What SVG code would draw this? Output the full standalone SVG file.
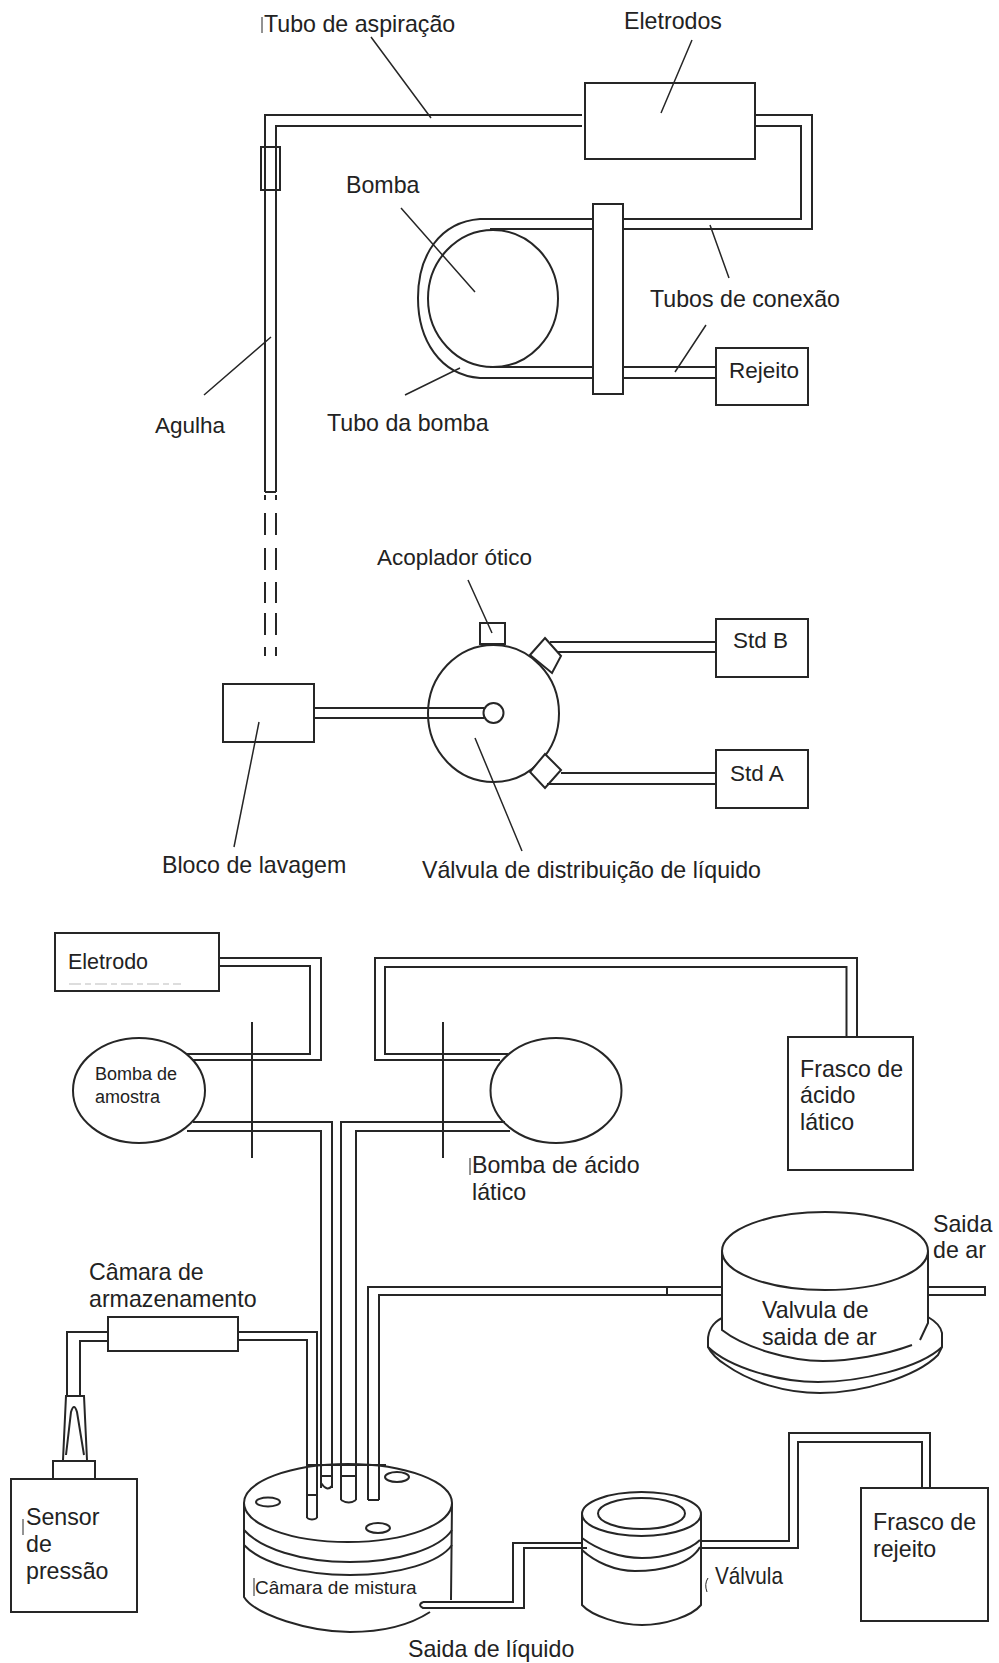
<svg xmlns="http://www.w3.org/2000/svg" width="999" height="1663" viewBox="0 0 999 1663">
<style>
text{font-family:"Liberation Sans",Arial,sans-serif;font-size:23.2px;fill:#222}
.n{font-size:22.5px}
.s{font-size:18px}
.m{font-size:19px}
path,rect,ellipse,line,polygon{stroke:#262626;stroke-width:2;fill:none}
.w{fill:#fff}
.l{stroke-width:1.5}
.t{stroke-width:1}
.d{stroke:#bbb;stroke-width:1;stroke-dasharray:12 4 6 4}
</style>
<rect x="0" y="0" width="999" height="1663" style="fill:#fff;stroke:none"/>
<g id="eletrodos"><rect class="w" x="585" y="83" width="170" height="76"/><text x="624" y="29">Eletrodos</text></g>
<g id="colar"><rect x="261" y="147" width="19" height="43"/></g>
<g id="bomba"><ellipse cx="493" cy="298.5" rx="65" ry="68.5"/><text x="346" y="193">Bomba</text></g>
<g id="prensa"><rect class="w" x="593" y="204" width="30" height="190"/></g>
<g id="rejeito"><rect class="w" x="716" y="348" width="92" height="57"/><text class="n" x="729" y="378">Rejeito</text></g>
<g id="bloco"><rect class="w" x="223" y="684" width="91" height="58"/><text x="162" y="873">Bloco de lavagem</text></g>
<g id="valvula-dist"><ellipse cx="493.5" cy="713.5" rx="65.5" ry="68.5"/><ellipse class="w" cx="493.5" cy="713" rx="10" ry="10"/>
<rect class="w" x="480" y="623" width="25" height="21"/>
<polygon class="w" points="545,638 561,656 552,673 530,655"/>
<polygon class="w" points="545,754 561,770 545,788 530,772"/>
<text x="422" y="878">Válvula de distribuição de líquido</text></g>
<g id="stdb"><rect class="w" x="716" y="619" width="92" height="58"/><text class="n" x="733" y="648">Std B</text></g>
<g id="stda"><rect class="w" x="716" y="750" width="92" height="58"/><text class="n" x="730" y="781">Std A</text></g>
<g id="eletrodo"><rect class="w" x="55" y="933" width="164" height="58"/><text x="68" y="969" style="font-size:21.5px">Eletrodo</text><line class="d" x1="69" y1="984" x2="181" y2="984"/></g>
<g id="bomba-amostra"><ellipse class="w" cx="139" cy="1090.5" rx="66" ry="52.5"/><text class="s" x="95" y="1080">Bomba de</text><text class="s" x="95" y="1103">amostra</text></g>
<g id="bomba-acido"><ellipse class="w" cx="556" cy="1090.5" rx="65.5" ry="52.5"/><path class="t" d="M470 1158V1175"/><text x="472" y="1173">Bomba de ácido</text><text x="472" y="1200">lático</text></g>
<g id="frasco-acido"><rect class="w" x="788" y="1037" width="125" height="133"/><text x="800" y="1077">Frasco de</text><text x="800" y="1103">ácido</text><text x="800" y="1130">lático</text></g>
<g id="valvula-ar">
<path d="M722 1318C712 1323 708 1332 708 1340L708 1347C712 1355 718 1360 726 1365C750 1382 785 1393 820 1393C860 1393 915 1378 938 1355L942 1347L942 1333C941 1327 935 1321 928 1317"/>
<path d="M708 1347C730 1368 780 1382 818 1382C860 1382 920 1368 942 1347"/>
<ellipse class="w" cx="825" cy="1251" rx="103" ry="39"/>
<path d="M722 1251L722 1330C745 1348 790 1361 823 1361C850 1361 885 1355 912 1345M920 1340L928 1323L928 1251"/>
<text x="762" y="1318">Valvula de</text><text x="762" y="1345">saida de ar</text>
<text x="933" y="1232">Saida</text><text x="933" y="1258">de ar</text></g>
<g id="camara-armazenamento"><rect class="w" x="108" y="1317" width="130" height="34"/><text x="89" y="1280">Câmara de</text><text x="89" y="1307">armazenamento</text></g>
<g id="sensor"><rect class="w" x="11" y="1479" width="126" height="133"/><rect class="w" x="53" y="1461" width="42" height="18"/>
<path d="M63 1460L66 1396L84 1396L87 1460"/><path d="M66 1455L71 1412Q74 1402 77 1412L84 1455"/>
<text x="26" y="1525">Sensor</text><text x="26" y="1552">de</text><text x="26" y="1579">pressão</text>
<path class="t" d="M23 1519L23 1535"/></g>
<g id="camara-mistura">
<path d="M244 1503L244 1597C255 1615 310 1632 350 1632C385 1632 410 1625 430 1612M452 1503L451 1600"/>
<path d="M244 1530C260 1548 300 1562 350 1562C400 1562 440 1548 452 1530"/>
<path d="M244 1545C260 1562 300 1575 350 1575C400 1575 440 1562 452 1545"/>
<ellipse cx="348" cy="1503" rx="104" ry="39"/>
<ellipse cx="268" cy="1502" rx="12" ry="4.5"/><ellipse cx="397" cy="1477" rx="12" ry="5"/><ellipse cx="378" cy="1528" rx="12" ry="5"/>
<path class="t" d="M254 1578V1596"/><text class="m" x="255" y="1594">Câmara de mistura</text></g>
<g id="valvula"><path d="M582 1514L582 1605C592 1616 620 1625 642 1625C665 1625 692 1616 701 1605L701 1514"/>
<ellipse class="w" cx="641.5" cy="1514" rx="59.5" ry="22"/><ellipse cx="641.5" cy="1513.5" rx="43.5" ry="15.5"/>
<path d="M582 1538C598 1550 620 1558 642 1558C665 1558 690 1550 700 1540"/>
<path d="M582 1550C595 1562 615 1571 635 1571C660 1571 690 1565 700 1547"/>
<path class="t" d="M708 1578Q704 1584 707 1592"/><text x="715" y="1584" textLength="68" lengthAdjust="spacingAndGlyphs">Válvula</text></g>
<g id="frasco-rejeito"><rect class="w" x="861" y="1488" width="127" height="133"/><text x="873" y="1530">Frasco de</text><text x="873" y="1557">rejeito</text></g>
<g id="rotulos"><path class="t" d="M262 17V33"/><text x="264" y="32">Tubo de aspiração</text><text x="650" y="307">Tubos de conexão</text><text class="n" x="155" y="433">Agulha</text><text x="327" y="431">Tubo da bomba</text><text class="n" x="377" y="565">Acoplador ótico</text><text x="408" y="1657">Saida de líquido</text></g>
<g id="connectors">
<path d="M582 115L265 115L265 492M582 126L276 126L276 492M265 492L276 492"/>
<path d="M265 495V500M276 495V500M265 513V535M276 513V535M265 548V570M276 548V570M265 582V603M276 582V603M265 613V635M276 613V635M265 647V656M276 647V656"/>
<path d="M755 115L812 115L812 229L623 229M755 126L801 126L801 219L623 219"/>
<path d="M593 219L480 219C440 222 418 255 418 298C418 340 440 375 480 378L593 378M593 229L490 229M593 367L490 367"/>
<path d="M623 367L716 367M623 378L716 378"/>
<path d="M314 708L484 708M314 718L484 718"/>
<path d="M550 642L716 642M558 652L716 652M561 773L716 773M547 784L716 784"/>
<path d="M219 958L321 958L321 1060L193 1060M219 966L310 966L310 1054L187 1054"/>
<path d="M193 1122L332 1122L332 1488M187 1131L321 1131L321 1488"/>
<path d="M508 1054L385 1054L385 967L846.5 967L846.5 1037M500 1060L375 1060L375 958L857 958L857 1037"/>
<path d="M505 1122L341 1122L341 1500M510 1131L356 1131L356 1500"/>
<path d="M722 1287L368 1287L368 1500M722 1295L379 1295L379 1500M368 1500L379 1500M667 1287L667 1295"/>
<path d="M928 1287L985 1287L985 1295L928 1295"/>
<path d="M238 1332L317 1332L317 1518M238 1340L307 1340L307 1518M307 1518Q312 1521 317 1518M307 1495L317 1495"/>
<path d="M108 1332L67 1332L67 1396M108 1341L80 1341L80 1396"/>
<path d="M321 1483Q327 1492 332 1486M321 1476L332 1476"/>
<path d="M341 1476L356 1476M341 1500Q349 1505 356 1500"/>
<path d="M306 1465L386 1465"/>
<path d="M451 1602L513 1602L513 1543L583 1543M423 1602Q417 1605 423 1608L524 1608L524 1548L587 1548M423 1602L451 1602"/>
<path d="M700 1541L789 1541L789 1433L930 1433L930 1488M700 1548L798 1548L798 1442L922 1442L922 1488"/>
<line x1="252" y1="1022" x2="252" y2="1158"/><line x1="443" y1="1022" x2="443" y2="1158"/>
<g class="leaders"><path class="l" d="M371 37L431 118M692 40L661 113M401 208L475 292M710 225L729 278M706 325L675 372M271 337L204 395M460 368L405 395M468 580L492 633M259 722L234 847M475 738L522 851"/></g>
</g>
</svg>
